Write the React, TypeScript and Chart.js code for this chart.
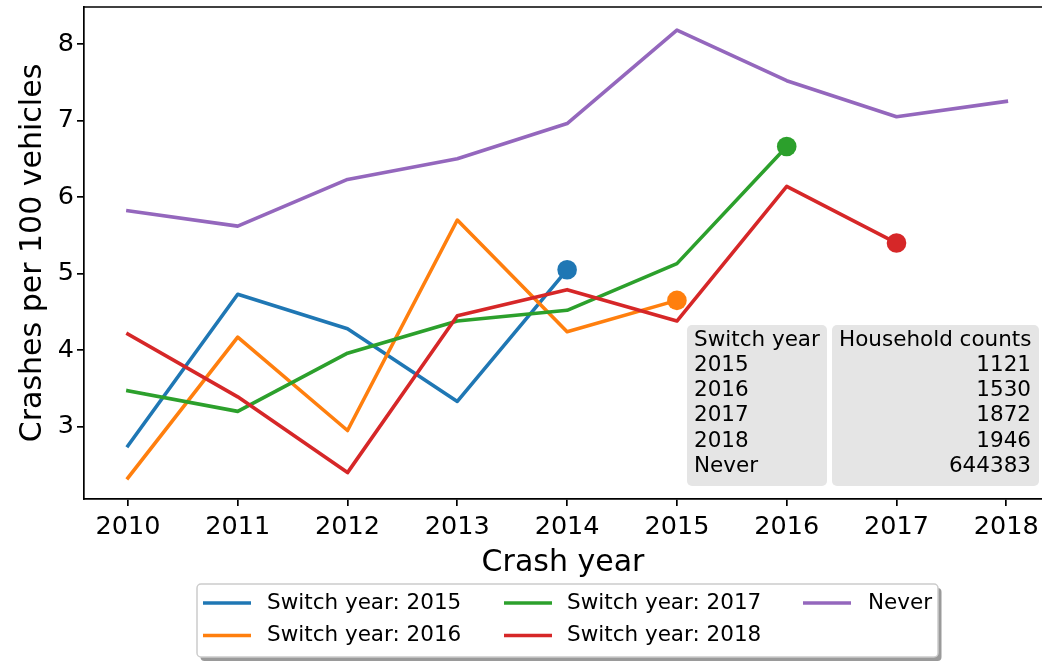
import React, { useEffect, useRef } from 'react';
import { Chart, registerables } from 'chart.js';

Chart.register(...registerables);

// ---- data ----
const years = [2010, 2011, 2012, 2013, 2014, 2015, 2016, 2017, 2018];
const switch2015 = [2.75, 4.73, 4.28, 3.33, 5.05];
const switch2016 = [2.33, 4.17, 2.95, 5.70, 4.24, 4.65];
const switch2017 = [3.47, 3.20, 3.96, 4.38, 4.52, 5.13, 6.66];
const switch2018 = [4.21, 3.39, 2.40, 4.45, 4.79, 4.38, 6.14, 5.40];
const never = [5.82, 5.62, 6.23, 6.50, 6.96, 8.18, 7.52, 7.05, 7.25];
const seriesLabels = ['Switch year: 2015', 'Switch year: 2016', 'Switch year: 2017', 'Switch year: 2018', 'Never'];
const yTicks = [3, 4, 5, 6, 7, 8];
const tableHeader = ['Switch year', 'Household counts'];
const tableSwitchYears = ['2015', '2016', '2017', '2018', 'Never'];
const householdCounts = [1121, 1530, 1872, 1946, 644383];

const COLORS = ['#1f77b4', '#ff7f0e', '#2ca02c', '#d62728', '#9467bd'];
const FONT = '"DejaVu Sans", "Liberation Sans", sans-serif';

export default function App() {
  const ref = useRef<HTMLCanvasElement>(null);

  useEffect(() => {
    const canvas = ref.current;
    if (!canvas) return;
    const series = [switch2015, switch2016, switch2017, switch2018, never];
    const datasets = series.map((vals, i) => ({
      label: seriesLabels[i],
      data: vals.map((v, j) => ({ x: years[j], y: v })),
      borderColor: COLORS[i],
      backgroundColor: COLORS[i],
      borderWidth: 3.6,
      tension: 0,
      fill: false,
      borderCapStyle: 'square' as const,
      borderJoinStyle: 'round' as const,
      pointRadius: (ctx: any) => (i < 4 && ctx.dataIndex === vals.length - 1 ? 9.8 : 0),
      pointHoverRadius: (ctx: any) => (i < 4 && ctx.dataIndex === vals.length - 1 ? 9.8 : 0),
      pointBorderWidth: 0,
      pointBackgroundColor: COLORS[i],
      order: 5 - i,
    }));

    const framePlugin = {
      id: 'frameTableLegend',
      afterDraw(chart: any) {
        const { ctx, chartArea } = chart;
        ctx.save();
        // top frame line
        ctx.strokeStyle = '#000';
        ctx.lineWidth = 1.7;
        ctx.beginPath();
        ctx.moveTo(chartArea.left - 0.85, chartArea.top);
        ctx.lineTo(chartArea.right, chartArea.top);
        ctx.stroke();

        // table
        ctx.fillStyle = '#e5e5e5';
        ctx.beginPath();
        ctx.roundRect(687, 325, 140, 161, 5);
        ctx.fill();
        ctx.beginPath();
        ctx.roundRect(832, 325, 207, 161, 5);
        ctx.fill();
        ctx.font = `21.5px ${FONT}`;
        ctx.fillStyle = '#000';
        ctx.textBaseline = 'middle';
        const rowY = (r: number) => 340 + r * 25.3;
        ctx.textAlign = 'left';
        ctx.fillText(tableHeader[0], 694, rowY(0));
        ctx.fillText(tableHeader[1], 839, rowY(0));
        tableSwitchYears.forEach((s, r) => {
          ctx.textAlign = 'left';
          ctx.fillText(s, 694, rowY(r + 1));
          ctx.textAlign = 'right';
          ctx.fillText(String(householdCounts[r]), 1031, rowY(r + 1));
        });

        // legend
        const bx = 197, by = 584, bw = 741, bh = 73;
        ctx.fillStyle = '#9a9a9a';
        ctx.beginPath();
        ctx.roundRect(bx + 3.5, by + 4, bw, bh, 4);
        ctx.fill();
        ctx.fillStyle = '#fff';
        ctx.strokeStyle = '#cccccc';
        ctx.lineWidth = 1.5;
        ctx.beginPath();
        ctx.roundRect(bx, by, bw, bh, 4);
        ctx.fill();
        ctx.stroke();
        const handleX = [203, 504, 803];
        const textX = [267, 567, 868];
        const rowsY = [603, 635.5];
        ctx.textAlign = 'left';
        ctx.textBaseline = 'middle';
        ctx.font = `21.5px ${FONT}`;
        seriesLabels.forEach((lab, k) => {
          const col = Math.floor(k / 2);
          const row = k % 2;
          const y = rowsY[row];
          ctx.strokeStyle = COLORS[k];
          ctx.lineWidth = 3.6;
          ctx.lineCap = 'butt';
          ctx.beginPath();
          ctx.moveTo(handleX[col], y);
          ctx.lineTo(handleX[col] + 48, y);
          ctx.stroke();
          ctx.fillStyle = '#000';
          ctx.fillText(lab, textX[col], y);
        });
        ctx.restore();
      },
    };

    const chart = new Chart(canvas, {
      type: 'line',
      data: { datasets },
      options: {
        animation: false,
        responsive: false,
        events: [],
        layout: { autoPadding: false, padding: { left: 0, top: 7, right: 0, bottom: 0 } },
        plugins: { legend: { display: false }, tooltip: { enabled: false } },
        scales: {
          x: {
            type: 'linear',
            min: 2009.6,
            max: 2018.325,
            afterBuildTicks: (scale: any) => {
              scale.ticks = years.map((v) => ({ value: v }));
            },
            afterFit: (scale: any) => {
              scale.height = 163;
              scale.paddingLeft = 0;
              scale.paddingRight = 0;
            },
            ticks: {
              color: '#000',
              font: { family: FONT, size: 25.5 },
              padding: 6,
              maxRotation: 0,
              autoSkip: false,
              callback: (v: any) => String(v),
            },
            grid: {
              display: true,
              drawOnChartArea: false,
              drawTicks: true,
              tickLength: 7,
              color: '#000',
              lineWidth: 1.7,
            },
            border: { display: true, color: '#000', width: 1.7 },
            title: {
              display: true,
              text: 'Crash year',
              color: '#000',
              font: { family: FONT, size: 30 },
              padding: { top: 0, bottom: 81 },
            },
          },
          y: {
            type: 'linear',
            min: 2.055,
            max: 8.483,
            afterBuildTicks: (scale: any) => {
              scale.ticks = yTicks.map((v) => ({ value: v }));
            },
            afterFit: (scale: any) => {
              scale.width = 84;
              scale.paddingTop = 0;
              scale.paddingBottom = 0;
            },
            ticks: {
              color: '#000',
              font: { family: FONT, size: 25.5 },
              padding: 3,
              autoSkip: false,
              callback: (v: any) => String(v),
            },
            grid: {
              display: true,
              drawOnChartArea: false,
              drawTicks: true,
              tickLength: 7,
              color: '#000',
              lineWidth: 1.7,
            },
            border: { display: true, color: '#000', width: 1.7 },
            title: {
              display: true,
              text: 'Crashes per 100 vehicles',
              color: '#000',
              font: { family: FONT, size: 30 },
              padding: { top: 15, bottom: 0 },
            },
          },
        },
      },
      plugins: [framePlugin],
    } as any);

    return () => chart.destroy();
  }, []);

  return (
    <div
      style={{
        position: 'fixed',
        left: 0,
        top: 0,
        width: 1042,
        height: 662,
        overflow: 'hidden',
        background: '#fff',
      }}
    >
      <canvas ref={ref} width={1042} height={662} style={{ display: 'block', width: 1042, height: 662 }} />
    </div>
  );
}
